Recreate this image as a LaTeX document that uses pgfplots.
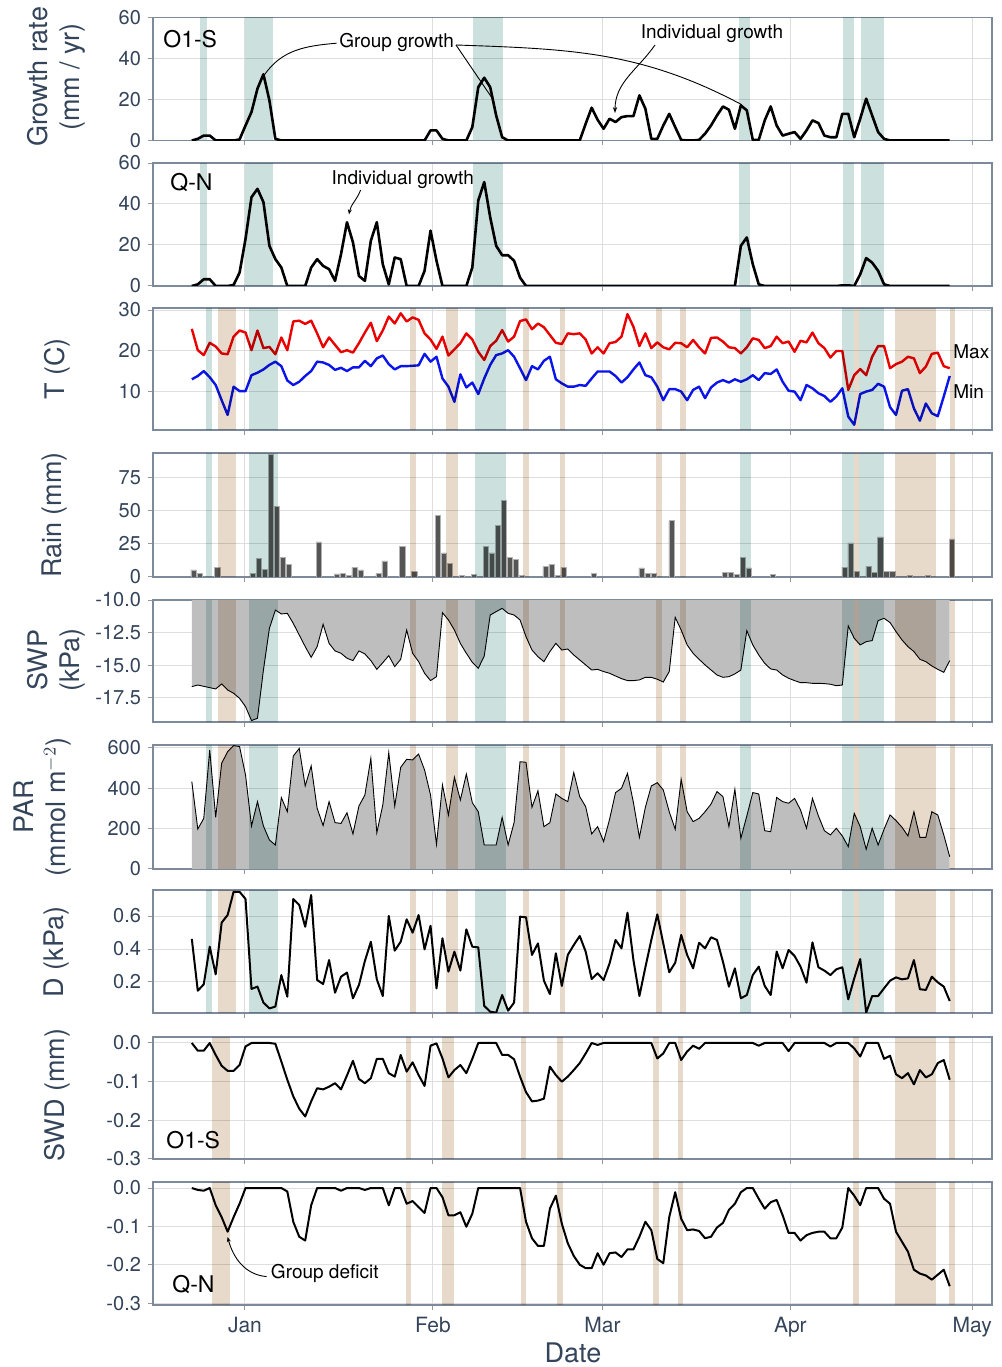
\documentclass[border=0pt]{standalone}
\usepackage{pgfplots}
\pgfplotsset{compat=1.18}
\usepackage{pgfplotstable}
\usepackage{fontspec}
\setmainfont{TeX Gyre Heros}
\usetikzlibrary{arrows.meta}

\definecolor{slate}{RGB}{52,68,90}
\definecolor{framec}{RGB}{125,138,155}
\definecolor{gridc}{RGB}{222,222,222}
\definecolor{tickc}{RGB}{150,150,150}
\definecolor{gbandc}{RGB}{204,224,222}
\definecolor{tbandc}{RGB}{232,218,203}
\definecolor{fillg}{RGB}{190,190,190}
\definecolor{barc}{RGB}{85,85,85}
\definecolor{tred}{RGB}{235,0,0}
\definecolor{tblue}{RGB}{10,20,235}

\newcommand\gb[2]{\fill[gbandc, blend mode=multiply] ({axis cs:#1,0}|-{rel axis cs:0,0}) rectangle ({axis cs:#2,0}|-{rel axis cs:0,1});}
\newcommand\tb[2]{\fill[tbandc, blend mode=multiply] ({axis cs:#1,0}|-{rel axis cs:0,0}) rectangle ({axis cs:#2,0}|-{rel axis cs:0,1});}
\newcommand\greenG{\gb{-7.4}{-6.3}\gb{0.0}{4.6}\gb{37.7}{42.6}\gb{81.6}{83.4}\gb{98.6}{100.5}\gb{101.6}{105.5}}
\newcommand\greenA{\gb{-6.45}{-5.4}\gb{0.6}{5.4}\gb{38.0}{43.0}\gb{81.7}{83.5}\gb{98.5}{100.5}\gb{101.4}{105.4}}
\newcommand\tanA{\tb{-4.5}{-1.5}\tb{27.3}{28.2}\tb{33.1}{35.1}\tb{45.9}{46.8}\tb{51.9}{52.8}\tb{67.9}{68.8}\tb{71.8}{72.7}\tb{100.5}{101.3}\tb{107.3}{114.1}\tb{116.4}{117.2}}
\newcommand\tanS{\tb{-5.4}{-2.4}\tb{26.5}{27.4}\tb{32.5}{34.5}\tb{45.5}{46.4}\tb{51.5}{52.4}\tb{67.4}{68.3}\tb{71.4}{72.3}\tb{100.4}{101.3}\tb{107.3}{114.1}\tb{116.2}{117.1}}

% growth rate O1-S
\pgfplotstableread[row sep=\\]{y\\
0\\0.8\\2.4\\2.4\\0\\0\\0\\0\\0.5\\7.3\\
13.9\\25.3\\32.3\\19.6\\0.8\\0\\0\\0\\0\\0\\
0\\0\\0\\0\\0\\0\\0\\0\\0\\0\\
0\\0\\0\\0\\0\\0\\0\\0\\0\\0\\
4.9\\4.9\\0.8\\0\\0\\0\\0\\6.5\\26\\30.6\\
26\\12.2\\1.6\\0\\0\\0\\0\\0\\0\\0\\
0\\0\\0\\0\\0\\0\\8.2\\16\\10.1\\5.7\\
10.6\\9\\11.4\\11.9\\11.9\\22\\15.5\\0.8\\0.8\\7.3\\
13\\6.5\\0.3\\0\\0\\0.3\\3.3\\7.3\\12.2\\16.6\\
15\\5.7\\17.1\\14.7\\0.3\\0.3\\9.8\\16.6\\7.3\\2.4\\
3.3\\4.1\\0.8\\4.9\\9.8\\8.5\\2.4\\1.6\\1.6\\13\\
13\\1.6\\10.6\\20.4\\12.2\\4.1\\0.8\\0\\0\\0\\
0\\0\\0\\0\\0\\0\\0\\0\\
}\gOS
% growth rate Q-N
\pgfplotstableread[row sep=\\]{y\\
0\\0.8\\3.3\\3.3\\0\\0\\0\\0.5\\6.5\\23\\
43.3\\47.4\\40.9\\19.6\\13.1\\9\\0\\0\\0\\0\\
9\\13.1\\9.8\\8.2\\2.5\\15.5\\31.1\\21.3\\4.9\\2.5\\
22.1\\31.1\\10.6\\0.8\\13.9\\13.1\\0\\0\\0\\7.4\\
27\\12.3\\0\\0\\0\\0\\0\\9\\41.7\\50.7\\
33.5\\19.6\\15\\15\\12.3\\4.1\\0\\0\\0\\0\\
0\\0\\0\\0\\0\\0\\0\\0\\0\\0\\
0\\0\\0\\0\\0\\0\\0\\0\\0\\0\\
0\\0\\0\\0\\0\\0\\0\\0\\0\\0\\
0\\0\\19.6\\23.7\\10.6\\0.8\\0\\0\\0\\0\\
0\\0\\0\\0\\0\\0\\0\\0\\0\\0.3\\
0.3\\0\\5.7\\13.6\\11.4\\7.4\\0.8\\0\\0\\0\\
0\\0\\0\\0\\0\\0\\0\\0\\
}\gQN
% temperature max
\pgfplotstableread[row sep=\\]{y\\
25.4\\20.2\\19.0\\22.0\\21.1\\19.4\\19.2\\23.5\\25.0\\24.5\\
20.2\\25.0\\20.7\\21.0\\19.2\\23.3\\20.2\\27.2\\27.4\\26.6\\
27.4\\24.3\\20.9\\23.3\\21.5\\19.7\\20.2\\19.6\\21.9\\24.5\\
26.9\\22.4\\25.0\\28.4\\26.7\\29.2\\27.2\\28.2\\27.6\\24.3\\
22.8\\20.5\\23.5\\18.9\\20.4\\21.9\\24.3\\22.8\\19.8\\17.8\\
21.2\\22.5\\25.1\\22.3\\23.5\\27.3\\27.7\\25.3\\26.7\\25.8\\
23.9\\22.0\\21.7\\24.3\\24.1\\24.3\\22.8\\19.4\\20.9\\19.4\\
21.9\\22.2\\23.5\\29.0\\25.9\\21.2\\24.3\\20.7\\22.1\\20.9\\
20.4\\22.0\\21.9\\20.9\\22.7\\20.9\\19.4\\23.2\\23.3\\22.3\\
20.9\\20.7\\19.4\\20.9\\23.1\\22.7\\20.7\\21.2\\23.5\\21.9\\
22.3\\19.8\\22.5\\22.1\\24.5\\21.9\\20.7\\18.4\\20.0\\20.0\\
10.5\\14.1\\15.6\\14.1\\18.6\\21.2\\21.2\\15.8\\16.8\\17.4\\
18.6\\18.2\\14.6\\16.2\\19.3\\19.6\\16.3\\15.8\\
}\tmax
% temperature min
\pgfplotstableread[row sep=\\]{y\\
13.1\\13.9\\15.1\\13.6\\11.7\\8.0\\4.4\\11.3\\10.2\\10.2\\
14.1\\14.7\\15.5\\16.6\\17.4\\16.3\\12.8\\11.7\\12.5\\13.9\\
15.1\\17.4\\17.2\\16.6\\15.4\\15.9\\15.1\\16.0\\16.0\\17.6\\
16.3\\18.2\\18.9\\16.8\\15.5\\16.3\\16.3\\16.4\\16.5\\19.3\\
17.4\\18.6\\13.3\\11.3\\7.6\\14.3\\11.1\\12.3\\9.5\\13.3\\
16.6\\19.0\\19.4\\20.2\\18.6\\15.8\\12.9\\16.3\\15.5\\17.6\\
18.6\\13.1\\12.1\\11.3\\11.3\\11.7\\11.5\\13.3\\15.0\\15.0\\
15.0\\13.9\\12.3\\13.6\\15.5\\17.2\\14.1\\13.6\\11.3\\8.0\\
10.7\\10.7\\10.1\\8.0\\10.5\\11.3\\8.5\\11.1\\12.3\\12.9\\
12.3\\13.1\\12.5\\13.1\\14.1\\12.9\\14.6\\14.4\\15.5\\12.5\\
10.3\\10.1\\8.0\\11.7\\10.9\\9.7\\9.0\\7.6\\8.9\\10.9\\
4.0\\2.0\\9.5\\10.1\\10.5\\12.0\\11.3\\6.3\\4.4\\10.3\\
10.7\\6.0\\3.0\\7.2\\4.8\\4.1\\8.9\\13.9\\
}\tmin
% rain
\pgfplotstableread[row sep=\\]{x y\\
-8.50 5.3\\-7.52 2.5\\-4.57 7.5\\1.34 2.5\\2.33 14\\3.31 5.8\\4.30 93\\5.28 53.5\\6.27 14.8\\7.25 9.5\\
12.18 26.6\\15.13 2.3\\16.11 2.5\\17.10 1.2\\18.08 7.3\\19.07 5.3\\22.02 2.5\\23.01 12.3\\25.96 23.1\\27.93 4.5\\
31.87 46.5\\32.86 18.3\\33.84 10.3\\35.81 1.5\\37.78 1.8\\39.75 23.4\\40.73 18.3\\41.72 39.2\\42.70 58\\43.69 14.8\\
44.67 13.3\\45.66 1\\49.60 7.8\\50.58 9.8\\51.57 1.5\\52.55 7.5\\57.57 2.8\\65.44 7.0\\66.43 2.8\\67.41 2.8\\
70.37 42.7\\79.23 3.5\\80.21 3.5\\81.20 1.8\\82.18 14.8\\83.17 7.0\\87.11 1.8\\98.93 7.5\\99.91 25.9\\100.90 4.5\\
102.87 8.3\\103.85 3.5\\104.83 30.4\\105.82 4.5\\106.80 4.5\\109.76 1\\112.71 1.5\\116.65 28.9\\
}\rain
% soil water potential
\pgfplotstableread[row sep=\\]{y\\
-16.63\\-16.51\\-16.61\\-16.71\\-16.81\\-16.43\\-16.89\\-17.14\\-17.53\\-18.16\\
-19.23\\-19.06\\-15.36\\-12.17\\-10.77\\-11.07\\-11.02\\-11.79\\-12.68\\-13.57\\
-14.39\\-13.57\\-11.86\\-13.32\\-13.90\\-14.08\\-14.46\\-14.64\\-13.90\\-14.13\\
-14.64\\-15.31\\-14.80\\-14.26\\-15.10\\-14.54\\-12.30\\-14.08\\-14.72\\-15.61\\
-16.17\\-15.87\\-10.97\\-11.53\\-12.30\\-13.32\\-14.08\\-14.77\\-15.23\\-14.29\\
-11.15\\-10.89\\-10.64\\-11.02\\-11.15\\-11.53\\-12.81\\-13.83\\-14.34\\-14.72\\
-13.95\\-13.32\\-13.83\\-13.75\\-14.21\\-14.59\\-14.97\\-15.36\\-15.31\\-15.48\\
-15.61\\-15.82\\-16.02\\-16.17\\-16.17\\-16.12\\-15.92\\-15.92\\-16.07\\-16.28\\
-15.48\\-11.33\\-12.30\\-13.44\\-14.08\\-14.54\\-14.97\\-15.36\\-15.74\\-15.92\\
-15.87\\-15.66\\-15.36\\-12.35\\-13.44\\-14.21\\-14.85\\-15.28\\-15.36\\-15.74\\
-15.99\\-16.17\\-16.33\\-16.33\\-16.38\\-16.38\\-16.40\\-16.45\\-16.56\\-16.51\\
-11.99\\-12.93\\-13.44\\-13.19\\-13.11\\-11.58\\-11.40\\-11.73\\-12.42\\-13.06\\
-13.57\\-13.95\\-14.54\\-14.72\\-15.05\\-15.31\\-15.54\\-14.64\\
}\swp
% PAR
\pgfplotstableread[row sep=\\]{y\\
433\\198\\251\\590\\256\\524\\582\\612\\607\\466\\
213\\334\\213\\144\\119\\354\\284\\560\\598\\412\\
511\\301\\215\\334\\230\\226\\279\\174\\312\\367\\
549\\180\\317\\577\\312\\504\\544\\541\\570\\491\\
367\\122\\417\\268\\455\\342\\471\\329\\284\\119\\
119\\119\\256\\119\\230\\532\\529\\306\\388\\210\\
230\\372\\350\\334\\478\\359\\309\\174\\210\\136\\
246\\379\\400\\474\\329\\157\\306\\412\\428\\392\\
284\\197\\445\\284\\235\\251\\284\\322\\384\\359\\
210\\395\\152\\263\\379\\372\\190\\185\\355\\334\\
326\\350\\293\\202\\350\\263\\190\\169\\202\\164\\
111\\276\\210\\98\\202\\119\\197\\268\\240\\207\\
164\\284\\157\\157\\284\\268\\169\\61\\
}\parT
% VPD
\pgfplotstableread[row sep=\\]{y\\
0.461\\0.147\\0.186\\0.414\\0.246\\0.560\\0.606\\0.747\\0.747\\0.703\\
0.158\\0.172\\0.075\\0.040\\0.051\\0.242\\0.111\\0.703\\0.667\\0.535\\
0.727\\0.212\\0.188\\0.333\\0.135\\0.232\\0.257\\0.101\\0.182\\0.327\\
0.444\\0.216\\0.115\\0.600\\0.390\\0.444\\0.580\\0.499\\0.606\\0.398\\
0.541\\0.162\\0.465\\0.263\\0.384\\0.269\\0.519\\0.414\\0.410\\0.055\\
0.020\\0.014\\0.121\\0.026\\0.075\\0.596\\0.592\\0.364\\0.434\\0.208\\
0.127\\0.374\\0.176\\0.364\\0.424\\0.479\\0.384\\0.218\\0.253\\0.212\\
0.313\\0.455\\0.404\\0.620\\0.333\\0.115\\0.289\\0.455\\0.610\\0.434\\
0.259\\0.317\\0.485\\0.364\\0.283\\0.438\\0.404\\0.471\\0.455\\0.323\\
0.172\\0.283\\0.101\\0.121\\0.242\\0.293\\0.176\\0.121\\0.384\\0.283\\
0.394\\0.358\\0.293\\0.196\\0.440\\0.289\\0.269\\0.242\\0.277\\0.289\\
0.095\\0.222\\0.339\\0.014\\0.115\\0.115\\0.162\\0.208\\0.228\\0.216\\
0.222\\0.333\\0.156\\0.152\\0.232\\0.198\\0.172\\0.085\\
}\dT
% SWD O1-S
\pgfplotstableread[row sep=\\]{y\\
0\\-0.020\\-0.020\\0\\-0.031\\-0.059\\-0.072\\-0.072\\-0.057\\-0.009\\
0\\0\\0\\0\\-0.002\\-0.048\\-0.095\\-0.138\\-0.170\\-0.190\\
-0.151\\-0.117\\-0.120\\-0.113\\-0.104\\-0.120\\-0.084\\-0.046\\-0.093\\-0.104\\
-0.091\\-0.041\\-0.041\\-0.078\\-0.087\\-0.031\\-0.074\\-0.050\\-0.083\\-0.111\\
-0.007\\-0.001\\-0.040\\-0.089\\-0.070\\-0.057\\-0.078\\-0.041\\0\\0\\
0\\0\\-0.031\\-0.031\\-0.042\\-0.087\\-0.127\\-0.151\\-0.149\\-0.144\\
-0.061\\-0.083\\-0.100\\-0.087\\-0.070\\-0.052\\-0.027\\0\\-0.005\\0\\
0\\0\\0\\0\\0\\0\\0\\0\\-0.040\\-0.027\\
0\\0\\-0.044\\-0.022\\-0.007\\-0.015\\0\\0\\0\\0\\
0\\0\\0\\0\\0\\-0.007\\0\\0\\0\\0\\
-0.021\\0\\0\\0\\0\\0\\0\\-0.009\\0\\0\\
0\\-0.014\\-0.035\\0\\0\\0\\-0.041\\-0.033\\-0.081\\-0.091\\
-0.078\\-0.107\\-0.070\\-0.089\\-0.081\\-0.052\\-0.044\\-0.095\\
}\swdA
% SWD Q-N
\pgfplotstableread[row sep=\\]{y\\
0\\-0.005\\-0.007\\0\\-0.045\\-0.076\\-0.114\\-0.076\\-0.041\\0\\
0\\0\\0\\0\\0\\0\\-0.009\\-0.088\\-0.127\\-0.137\\
-0.045\\0\\0\\0\\0\\-0.007\\0\\0\\0\\-0.005\\
0\\0\\0\\-0.045\\0\\0\\-0.041\\-0.034\\-0.050\\-0.065\\
0\\0\\-0.024\\-0.071\\-0.071\\-0.063\\-0.101\\-0.067\\0\\0\\
0\\0\\0\\0\\0\\0\\-0.088\\-0.131\\-0.151\\-0.151\\
-0.054\\-0.020\\-0.093\\-0.144\\-0.177\\-0.200\\-0.209\\-0.209\\-0.170\\-0.200\\
-0.170\\-0.168\\-0.180\\-0.160\\-0.160\\-0.127\\-0.088\\-0.110\\-0.185\\-0.196\\
-0.076\\-0.011\\-0.080\\-0.110\\-0.108\\-0.112\\-0.131\\-0.127\\-0.103\\-0.091\\
-0.057\\-0.041\\-0.011\\0\\0\\-0.028\\-0.054\\-0.037\\-0.031\\-0.071\\
-0.117\\-0.117\\-0.137\\-0.123\\-0.117\\-0.114\\-0.114\\-0.131\\-0.131\\-0.103\\
0\\-0.020\\-0.045\\0\\0\\0\\-0.028\\-0.041\\-0.114\\-0.140\\
-0.166\\-0.213\\-0.223\\-0.228\\-0.239\\-0.226\\-0.213\\-0.256\\
}\swdB

\pgfplotsset{
  base/.style={
    scale only axis, width=419.5pt, anchor=south west,
    xmin=-15.18, xmax=123.27,
    xtick={0,31,59,90,120}, xticklabels={},
    grid=major, major grid style={draw=gridc, line width=0.5pt},
    axis line style={draw=framec, line width=0.6pt},
    tick align=outside, major tick length=2.5pt,
    tick style={draw=tickc, line width=0.5pt},
    tick pos=left,
    yticklabel style={font=\fontsize{10}{12}\selectfont, text=slate},
    xticklabel style={font=\fontsize{10.5}{12}\selectfont, text=slate},
  },
}
\newcommand\ttl{\fontsize{13.5}{16}\selectfont}
\newcommand\ann{\fontsize{9.5}{11}\selectfont}
\newcommand\plab{\fontsize{11.5}{13}\selectfont}

\begin{document}
\begin{tikzpicture}
\path[use as bounding box] (0,0) rectangle (501pt,683.5pt);

% 1 growth O1-S
\begin{axis}[base, at={(76.5pt,613.25pt)}, height=61.5pt,
  ymin=0, ymax=60, ytick={0,20,40,60}, yticklabels={0,20,40,60}]
  \addplot[black, line width=1.3pt, line join=round] table[x expr=(\coordindex*11-98)/11.17, y=y]{\gOS};
  \greenG
\end{axis}
% 2 growth Q-N
\begin{axis}[base, at={(76.5pt,540.5pt)}, height=61.5pt,
  ymin=0, ymax=60, ytick={0,20,40,60}, yticklabels={0,20,40,60}]
  \addplot[black, line width=1.3pt, line join=round] table[x expr=(\coordindex*11-98)/11.17, y=y]{\gQN};
  \greenG
\end{axis}
% 3 temperature
\begin{axis}[base, at={(76.5pt,468.5pt)}, height=61pt,
  ymin=0.73, ymax=30.49, ytick={10,20,30}, yticklabels={10,20,30}]
  \addplot[tred, line width=1.2pt, line join=round] table[x expr=(\coordindex*11-98)/11.17, y=y]{\tmax};
  \addplot[tblue, line width=1.2pt, line join=round] table[x expr=(\coordindex*11-98)/11.17, y=y]{\tmin};
  \greenA\tanA
\end{axis}
% 4 rain
\begin{axis}[base, at={(76.5pt,395pt)}, height=62pt,
  ymin=0, ymax=93.9, ytick={0,25,50,75}, yticklabels={0,25,50,75}]
  \addplot[ybar, bar width=0.85, bar shift=0pt, fill=barc, draw=barc!45!white, line width=0.25pt] table[x=x, y=y]{\rain};
  \greenA\tanA
\end{axis}
% 5 SWP
\begin{axis}[base, at={(76.5pt,322.5pt)}, height=61pt,
  ymin=-19.34, ymax=-10, ytick={-17.5,-15,-12.5,-10}, yticklabels={-17.5,-15.0,-12.5,-10.0}]
  \addplot[fill=fillg, draw=none] table[x expr=(\coordindex*11-98)/11.17, y=y]{\swp} \closedcycle;
  \addplot[black, line width=0.45pt] table[x expr=(\coordindex*11-98)/11.17, y=y]{\swp};
  \greenA\tanA
\end{axis}
% 6 PAR
\begin{axis}[base, at={(76.5pt,249pt)}, height=62pt,
  ymin=0, ymax=614.9, ytick={0,200,400,600}, yticklabels={0,200,400,600}]
  \addplot[fill=fillg, draw=none] table[x expr=(\coordindex*11-98)/11.17, y=y]{\parT} \closedcycle;
  \addplot[black, line width=0.45pt] table[x expr=(\coordindex*11-98)/11.17, y=y]{\parT};
  \greenA\tanA
\end{axis}
% 7 D
\begin{axis}[base, at={(76.5pt,177pt)}, height=61.5pt,
  ymin=0.0121, ymax=0.7576, ytick={0.2,0.4,0.6}, yticklabels={0.2,0.4,0.6}]
  \addplot[black, line width=1pt, line join=round] table[x expr=(\coordindex*11-98)/11.17, y=y]{\dT};
  \greenA\tanA
\end{axis}
% 8 SWD O1-S
\begin{axis}[base, at={(76.5pt,104pt)}, height=61pt,
  ymin=-0.3, ymax=0.0155, ytick={-0.3,-0.2,-0.1,0}, yticklabels={-0.3,-0.2,-0.1,0.0}]
  \addplot[black, line width=1pt, line join=round] table[x expr=(\coordindex*11-98)/11.17, y=y]{\swdA};
  \tanS
\end{axis}
% 9 SWD Q-N
\begin{axis}[base, at={(76.5pt,31pt)}, height=61.5pt,
  ymin=-0.305, ymax=0.0157, ytick={-0.3,-0.2,-0.1,0}, yticklabels={-0.3,-0.2,-0.1,0.0},
  xticklabels={Jan,Feb,Mar,Apr,May}]
  \addplot[black, line width=1pt, line join=round] table[x expr=(\coordindex*11-98)/11.17, y=y]{\swdB};
  \tanS
\end{axis}

% axis titles
\begin{scope}[every node/.style={text=slate, font=\ttl, inner sep=0pt}]
\node[rotate=90, align=center] at (28pt,645pt) {Growth rate\\(mm / yr)};
\node[rotate=90] at (28.5pt,499pt) {T (C)};
\node[rotate=90] at (27.5pt,426pt) {Rain (mm)};
\node[rotate=90, align=center] at (28pt,353.5pt) {SWP\\(kPa)};
\node[rotate=90, align=center] at (21.5pt,280pt) {PAR\\(mmol m$^{-2}$)};
\node[rotate=90] at (28.5pt,207.5pt) {D (kPa)};
\node[rotate=90] at (28.5pt,136pt) {SWD (mm)};
\node at (286.5pt,7.2pt) {Date};
\end{scope}

% panel labels and annotations
\begin{scope}[every node/.style={font=\plab, text=black, inner sep=0pt}]
\node[anchor=west] at (81.5pt,664pt) {O1-S};
\node[anchor=west] at (85pt,592pt) {Q-N};
\node[anchor=west] at (83pt,113.5pt) {O1-S};
\node[anchor=west] at (86pt,41pt) {Q-N};
\end{scope}
\begin{scope}[every node/.style={font=\ann, text=black, inner sep=0pt}]
\node[anchor=west] at (476.5pt,507.75pt) {Max};
\node[anchor=west] at (476.5pt,487.5pt) {Min};
\node at (198.3pt,662.2pt) {Group growth};
\node at (356pt,666.8pt) {Individual growth};
\node at (201.4pt,593.5pt) {Individual growth};
\node at (162.4pt,46.85pt) {Group deficit};
\end{scope}
\begin{scope}[line width=0.45pt, black]
\draw (168.3pt,661.9pt) to[out=185,in=55] (132.3pt,646.2pt);
\draw (228pt,661pt) -- (246.7pt,633.5pt);
\draw (228pt,661pt) to[out=-2,in=152] (370.8pt,631.2pt);
\draw[-{Stealth[length=3pt,width=2.2pt]}] (327.5pt,661pt) to[out=235,in=90] (307.5pt,627pt);
\draw[-{Stealth[length=2.5pt,width=2pt]}] (180.3pt,588.5pt) to[out=250,in=80] (174.5pt,576.3pt);
\draw[-{Stealth[length=2.5pt,width=2pt]}] (133.3pt,45.2pt) to[out=175,in=-75] (113.8pt,65pt);
\end{scope}
\end{tikzpicture}
\end{document}
